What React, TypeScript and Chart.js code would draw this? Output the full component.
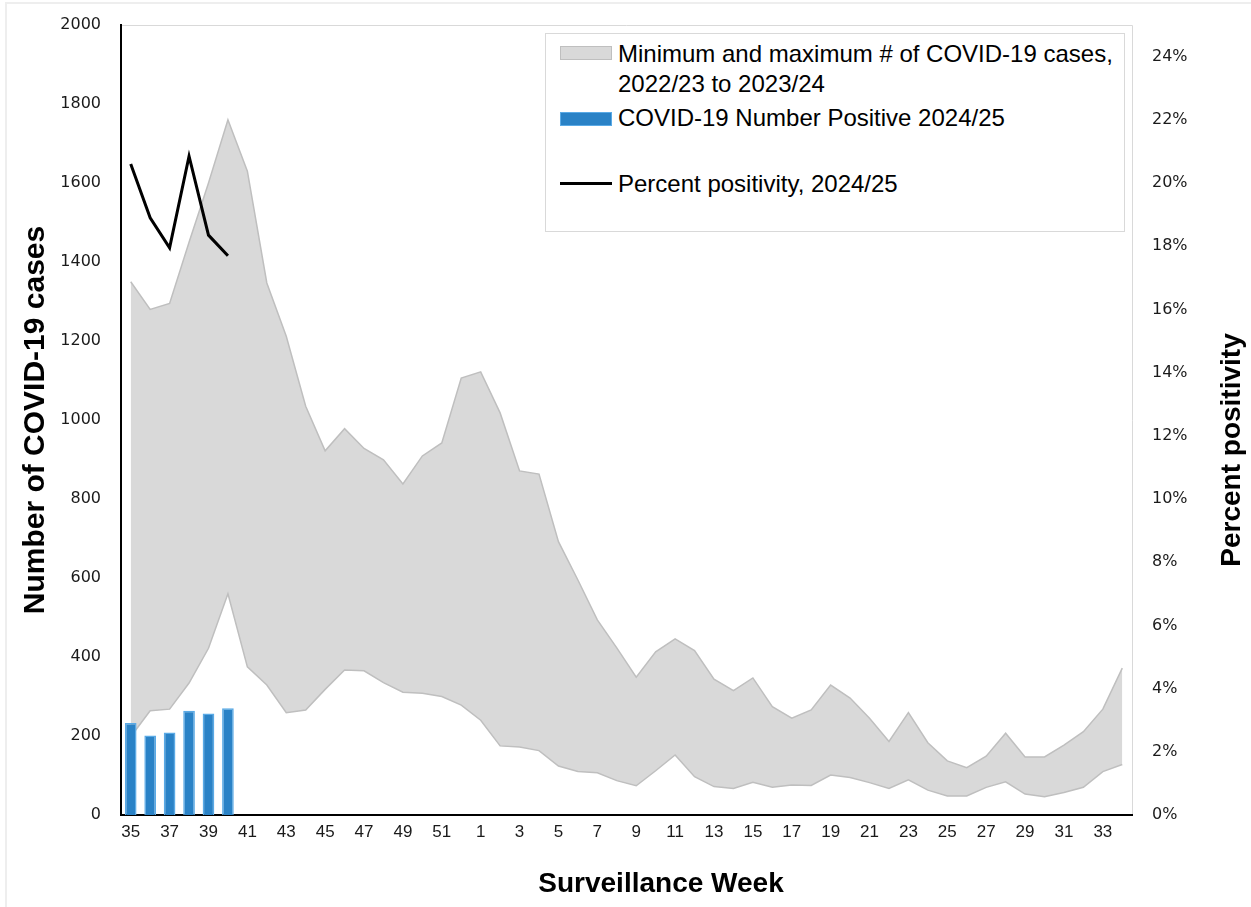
import { useEffect, useRef } from 'react';
import { Chart, registerables } from 'chart.js';

Chart.register(...registerables);

// surveillance weeks 35..52 of 2024, then 1..34 of 2025
const weeks = [
  '35', '36', '37', '38', '39', '40', '41', '42', '43', '44', '45', '46', '47', '48', '49', '50', '51', '52',
  '1', '2', '3', '4', '5', '6', '7', '8', '9', '10', '11', '12', '13', '14', '15', '16', '17',
  '18', '19', '20', '21', '22', '23', '24', '25', '26', '27', '28', '29', '30', '31', '32', '33', '34',
];

// min / max of weekly COVID-19 cases, 2022/23 to 2023/24
const minCases = [
  198, 264, 268, 334, 422, 560, 375, 329, 259, 266, 318, 367, 365, 335, 311, 308, 300, 278,
  240, 175, 172, 163, 124, 110, 107, 87, 74, 112, 152, 97, 72, 67, 83, 70, 76,
  75, 101, 95, 82, 67, 89, 63, 48, 48, 70, 84, 53, 46, 57, 70, 110, 128,
];
const maxCases = [
  1350, 1280, 1295, 1450, 1600, 1760, 1630, 1347, 1212, 1035, 922, 978, 928, 899, 838, 909, 942, 1106,
  1122, 1018, 871, 863, 692, 595, 494, 423, 349, 413, 446, 416, 344, 315, 347, 274, 245,
  266, 329, 296, 245, 186, 259, 183, 137, 120, 149, 207, 147, 147, 177, 211, 268, 372,
];

// 2024/25 season so far
const positive2425 = [233, 201, 209, 264, 257, 270];
const percentPositivity = [20.6, 18.9, 17.95, 20.85, 18.35, 17.7];

const SANS = '"Liberation Sans", Arial, sans-serif';
const WIDE = '"DejaVu Sans", Verdana, sans-serif';

const GREY_FILL = '#d9d9d9';
const GREY_LINE = '#bfbfbf';
const BLUE = '#2a82c6';
const BLUE_EDGE = '#5aaae6';

const W = 1251;
const H = 907;

// keep the plot area where the layout padding puts it
const fixVertical = (width: number) => (s: any) => {
  s.width = width;
  s.paddingTop = 0;
  s.paddingBottom = 0;
};

const framePlugin = {
  id: 'frame',
  beforeDraw(chart: Chart) {
    const { ctx, chartArea: a } = chart;
    ctx.save();
    // faint outer border of the figure
    ctx.fillStyle = '#eeeeee';
    ctx.fillRect(5, 2, W, 2);
    ctx.fillRect(5, 2, 2, H);
    // plot area frame, top and right
    ctx.strokeStyle = GREY_FILL;
    ctx.lineWidth = 1;
    ctx.beginPath();
    ctx.moveTo(a.left, a.top + 0.5);
    ctx.lineTo(a.right + 0.5, a.top + 0.5);
    ctx.lineTo(a.right + 0.5, a.bottom);
    ctx.stroke();
    ctx.restore();
  },
  afterDraw(chart: Chart) {
    const { ctx } = chart;
    ctx.save();
    ctx.fillStyle = '#000';
    ctx.font = `bold 28px ${SANS}`;
    ctx.textAlign = 'center';
    ctx.textBaseline = 'middle';
    ctx.fillText('Surveillance Week', 661, 884);
    ctx.translate(1232, 450);
    ctx.rotate(-Math.PI / 2);
    ctx.fillText('Percent positivity', 0, 0);
    ctx.restore();
  },
};

function CovidChart() {
  const canvasRef = useRef<HTMLCanvasElement>(null);
  const chartRef = useRef<Chart | null>(null);

  useEffect(() => {
    if (!canvasRef.current) return;
    if (chartRef.current) chartRef.current.destroy();

    chartRef.current = new Chart(canvasRef.current, {
      type: 'bar',
      data: {
        labels: weeks,
        datasets: [
          {
            type: 'line',
            label: 'Minimum',
            data: minCases,
            borderColor: GREY_LINE,
            borderWidth: 1.5,
            pointRadius: 0,
            fill: false,
            yAxisID: 'y',
            order: 3,
          },
          {
            type: 'line',
            label: 'Minimum and maximum # of COVID-19 cases, 2022/23 to 2023/24',
            data: maxCases,
            borderColor: GREY_LINE,
            borderWidth: 1.5,
            backgroundColor: GREY_FILL,
            pointRadius: 0,
            fill: '-1',
            yAxisID: 'y',
            order: 2,
          },
          {
            type: 'bar',
            label: 'COVID-19 Number Positive 2024/25',
            data: positive2425,
            backgroundColor: BLUE,
            borderColor: BLUE_EDGE,
            borderWidth: 1.5,
            barPercentage: 0.6,
            categoryPercentage: 1,
            yAxisID: 'y',
            order: 1,
          },
          {
            type: 'line',
            label: 'Percent positivity, 2024/25',
            data: percentPositivity,
            borderColor: '#000',
            borderWidth: 3,
            pointRadius: 0,
            fill: false,
            yAxisID: 'y1',
            order: 0,
          },
        ],
      } as any,
      options: {
        animation: false,
        responsive: false,
        devicePixelRatio: 1,
        layout: { padding: { top: 25, left: 0, right: 0, bottom: 0 } },
        plugins: {
          legend: { display: false },
          tooltip: { enabled: false },
          filler: { drawTime: 'beforeDatasetsDraw' },
        } as any,
        scales: {
          x: {
            offset: true,
            grid: { display: false, drawTicks: false },
            border: { display: true, color: '#000', width: 2 },
            ticks: {
              autoSkip: false,
              maxRotation: 0,
              padding: 7,
              color: '#1a1a1a',
              font: { family: SANS, size: 17 },
              callback: (_v: any, i: number) => (i % 2 === 0 ? weeks[i] : ''),
            },
            afterFit: (s: any) => { s.height = 92; },
          },
          y: {
            position: 'left',
            min: 0,
            max: 2000,
            grid: { display: false, drawTicks: false },
            border: { display: true, color: '#000', width: 2 },
            ticks: {
              stepSize: 200,
              padding: 20,
              color: '#1a1a1a',
              font: { family: WIDE, size: 16 },
              callback: (v: any) => String(v),
            },
            title: {
              display: true,
              text: 'Number of COVID-19 cases',
              color: '#000',
              font: { family: SANS, size: 30, weight: 'bold' },
              padding: { top: 18, bottom: 0 },
            },
            afterFit: fixVertical(121),
          },
          y1: {
            position: 'right',
            min: 0,
            max: 25,
            grid: { display: false, drawTicks: false },
            border: { display: false },
            ticks: {
              stepSize: 2,
              padding: 20,
              color: '#1a1a1a',
              font: { family: WIDE, size: 16 },
              callback: (v: any) => `${v}%`,
            },
            afterBuildTicks: (s: any) => { s.ticks = s.ticks.filter((t: any) => t.value <= 24); },
            afterFit: fixVertical(119),
          },
        } as any,
      },
      plugins: [framePlugin],
    });

    return () => {
      if (chartRef.current) {
        chartRef.current.destroy();
        chartRef.current = null;
      }
    };
  }, []);

  return <canvas ref={canvasRef} width={W} height={H} style={{ display: 'block' }}></canvas>;
}

function Legend() {
  const text = { position: 'absolute' as const, fontFamily: SANS, fontSize: 24, lineHeight: '30px', color: '#000', whiteSpace: 'nowrap' as const };
  return (
    <div style={{ position: 'absolute', left: 545, top: 33, width: 580, height: 199, border: '1px solid #d9d9d9', background: '#fff', boxSizing: 'border-box' }}>
      <div style={{ position: 'absolute', left: 14, top: 12, width: 52, height: 14, background: GREY_FILL, border: `1px solid ${GREY_LINE}`, boxSizing: 'border-box' }} />
      <div style={{ position: 'absolute', left: 14, top: 78, width: 52, height: 14, background: BLUE, border: `1px solid ${BLUE_EDGE}`, boxSizing: 'border-box' }} />
      <div style={{ position: 'absolute', left: 14, top: 148, width: 52, height: 3, background: '#000' }} />
      <div style={{ ...text, left: 72, top: 5 }}>Minimum and maximum # of COVID-19 cases,<br />2022/23 to 2023/24</div>
      <div style={{ ...text, left: 72, top: 69 }}>COVID-19 Number Positive 2024/25</div>
      <div style={{ ...text, left: 72, top: 135 }}>Percent positivity, 2024/25</div>
    </div>
  );
}

export default function App() {
  return (
    <div style={{ position: 'fixed', left: 0, top: 0, width: W, height: H, background: '#fff' }}>
      <CovidChart />
      <Legend />
    </div>
  );
}
